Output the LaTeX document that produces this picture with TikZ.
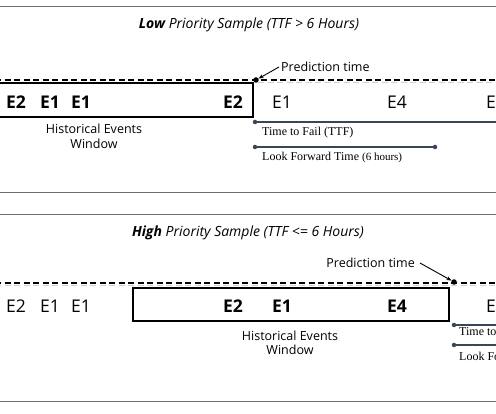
\documentclass[tikz,border=0pt]{standalone}
\usepackage{fontspec}
\setmainfont{Open Sans}
\newfontfamily\serifff{Liberation Serif}
\usetikzlibrary{arrows.meta}
\definecolor{linec}{HTML}{3A4656}
\definecolor{sepc}{HTML}{6E6E6E}
\begin{document}
\begin{tikzpicture}[x=1pt,y=-1pt,
  sep/.style={draw=sepc, line width=1pt},
  evt/.style={font=\fontsize{17.5}{17.5}\selectfont, inner sep=0pt},
  evtb/.style={font=\fontsize{17.5}{17.5}\selectfont\bfseries, inner sep=0pt},
  win/.style={draw=black, line width=2.4pt},
  tline/.style={draw=black, dash pattern=on 6pt off 3.5pt, line width=1.2pt},
  shadow/.style={draw=black!18, dash pattern=on 6pt off 3.5pt, line width=1.2pt},
  pdot/.style={circle, fill=black, inner sep=0pt, minimum size=5.5pt},
  sdot/.style={circle, fill=linec, inner sep=0pt, minimum size=4.5pt},
  spanl/.style={draw=linec, line width=1.3pt},
  lbl/.style={font=\fontsize{12.5}{14.5}\selectfont, inner sep=0pt},
  ttl/.style={font=\fontsize{14}{16}\selectfont\itshape, inner sep=0pt},
  slbl/.style={font=\serifff\fontsize{12}{13}\selectfont, inner sep=0pt, anchor=west},
  parrow/.style={draw=black, line width=0.9pt, -{Stealth[length=5pt,width=4pt]}}
]
\useasboundingbox (0,0) rectangle (496,414);
\clip (0,0) rectangle (496,414);

% ---------------- Low priority panel ----------------
\draw[sep] (0,7) -- (496,7);
\draw[sep] (0,193) -- (496,193);
\node[ttl] (t1) at (249,25) {\textbf{Low} Priority Sample (TTF > 6 Hours)};

\coordinate (d1s) at (-5,80);
\coordinate (d1e) at (500,80);
\draw[shadow] (258,82.5) -- (500,82.5);
\draw[tline] (d1s) -- (d1e);
\draw[win] (-5,83) rectangle (253,117);
\node[pdot] (p1) at (256,80) {};

\node[evtb] (a1) at (16,102) {E2};
\node[evtb] (a2) at (50,102) {E1};
\node[evtb] (a3) at (81,102) {E1};
\node[evtb] (a4) at (233,102) {E2};
\node[evt]  (a5) at (282,102) {E1};
\node[evt]  (a6) at (397,102) {E4};
\node[evt]  (a7) at (496,102) {E3};

\node[lbl, align=center] (h1) at (94,136.5) {Historical Events\\Window};

\node[lbl, anchor=west] (pl1) at (281,67) {Prediction time};
\draw[parrow] ([xshift=-2pt]pl1.west) -- (p1);

\node[sdot] (ts1) at (255,122) {};
\coordinate (te1) at (500,122);
\draw[spanl] (ts1) -- (te1);
\node[slbl] (tl1) at (262,132.5) {Time to Fail (TTF)};

\node[sdot] (ls1) at (255,147) {};
\node[sdot] (le1) at (435,147) {};
\draw[spanl] (ls1) -- (le1);
\node[slbl] (ll1) at (262,157.5) {Look Forward Time {\fontsize{11}{12}\selectfont(6 hours)}};

% ---------------- High priority panel ----------------
\draw[sep] (0,215) -- (496,215);
\draw[sep] (0,402) -- (496,402);
\node[ttl] (t2) at (248,233) {\textbf{High} Priority Sample (TTF <= 6 Hours)};

\coordinate (d2s) at (-5,283);
\coordinate (d2e) at (500,283);
\draw[shadow] (-5,285.5) -- (500,285.5);
\draw[tline] (d2s) -- (d2e);
\draw[win] (133,288) rectangle (449,321);
\node[pdot] (p2) at (454,282) {};

\node[evt]  (b1) at (16,306) {E2};
\node[evt]  (b2) at (50,306) {E1};
\node[evt]  (b3) at (81,306) {E1};
\node[evtb] (b4) at (233,306) {E2};
\node[evtb] (b5) at (282,306) {E1};
\node[evtb] (b6) at (397,306) {E4};
\node[evt]  (b7) at (496,306) {E3};

\node[lbl, align=center] (h2) at (290,343) {Historical Events\\Window};

\node[lbl, anchor=east] (pl2) at (415,263) {Prediction time};
\draw[parrow] ([xshift=5pt]pl2.east) -- (p2);

\node[sdot] (ts2) at (454,325) {};
\coordinate (te2) at (500,325);
\draw[spanl] (ts2) -- (te2);
\node[slbl] (tl2) at (459,332.5) {Time to Fail (TTF)};

\node[sdot] (ls2) at (454,345) {};
\coordinate (le2) at (500,345);
\draw[spanl] (ls2) -- (le2);
\node[slbl] (ll2) at (459,357.5) {Look Forward Time {\fontsize{11}{12}\selectfont(6 hours)}};
\end{tikzpicture}
\end{document}
